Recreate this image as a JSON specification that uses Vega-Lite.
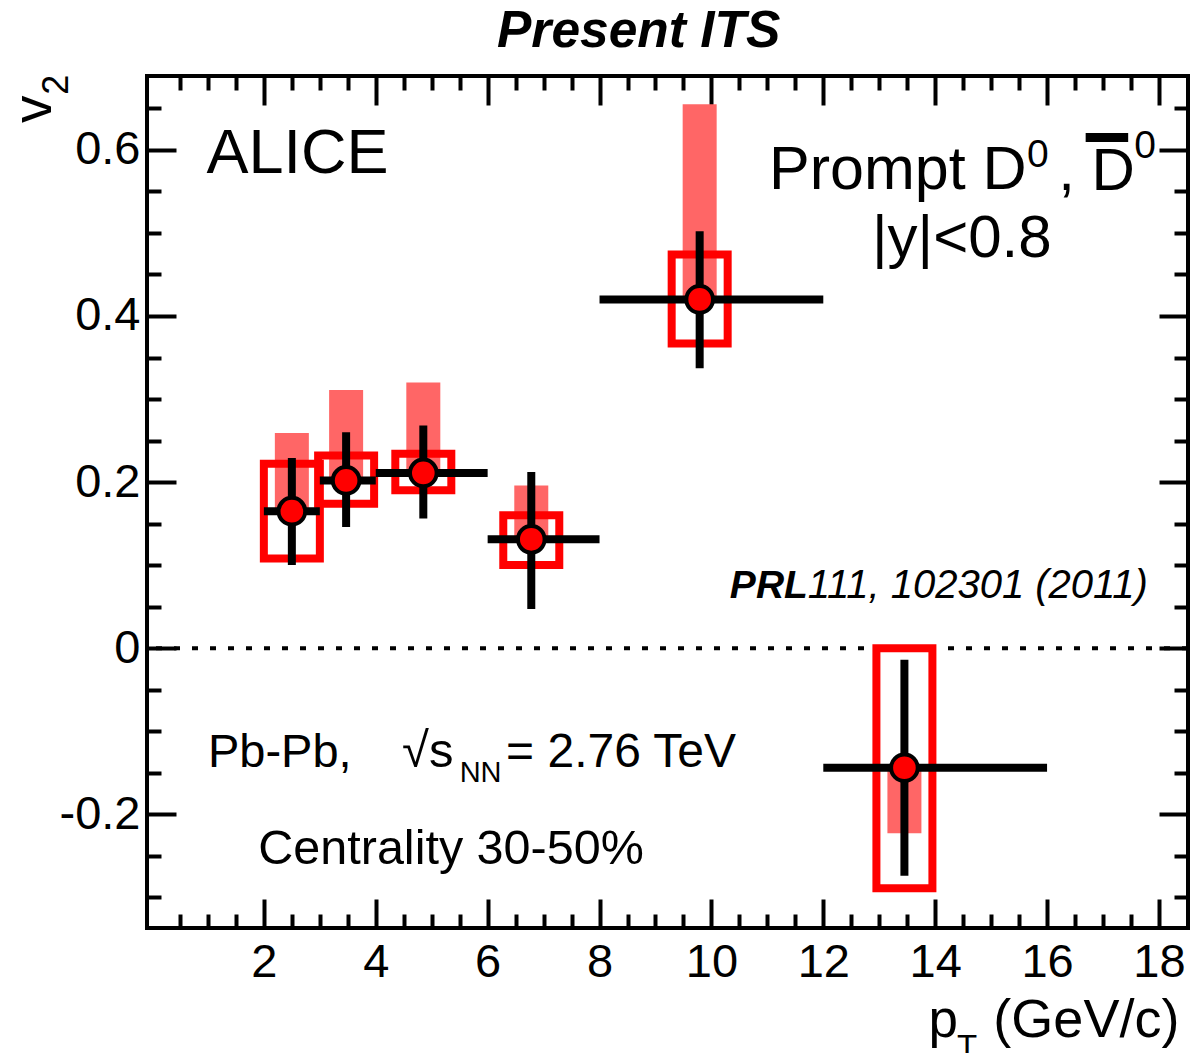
{
  "$schema": "https://vega.github.io/schema/vega-lite/v6.json",
  "width": 1041,
  "height": 852,
  "autosize": "none",
  "padding": {"left": 147, "top": 76, "right": 4, "bottom": 125},
  "background": "white",
  "config": {
    "view": {"stroke": "black", "strokeWidth": 4},
    "font": "Liberation Sans",
    "axis": {"domain": false, "grid": false, "tickColor": "black", "tickWidth": 4, "labelColor": "black", "labelFont": "Liberation Sans", "labelFontSize": 47}
  },
  "datasets": {
    "d": [
      {"pt": 2.50, "ptLo": 2, "ptHi": 3, "v2": 0.165, "statLo": 0.100, "statHi": 0.229, "sysLo": 0.108, "sysHi": 0.222, "fdLim": 0.259},
      {"pt": 3.47, "ptLo": 3, "ptHi": 4, "v2": 0.202, "statLo": 0.146, "statHi": 0.260, "sysLo": 0.174, "sysHi": 0.232, "fdLim": 0.311},
      {"pt": 4.85, "ptLo": 4, "ptHi": 6, "v2": 0.211, "statLo": 0.156, "statHi": 0.268, "sysLo": 0.190, "sysHi": 0.234, "fdLim": 0.320},
      {"pt": 6.78, "ptLo": 6, "ptHi": 8, "v2": 0.131, "statLo": 0.047, "statHi": 0.212, "sysLo": 0.100, "sysHi": 0.160, "fdLim": 0.196},
      {"pt": 9.79, "ptLo": 8, "ptHi": 12, "v2": 0.420, "statLo": 0.337, "statHi": 0.502, "sysLo": 0.367, "sysHi": 0.474, "fdLim": 0.655},
      {"pt": 13.45, "ptLo": 12, "ptHi": 16, "v2": -0.144, "statLo": -0.274, "statHi": -0.014, "sysLo": -0.289, "sysHi": 0.0, "fdLim": -0.223}
    ]
  },
  "resolve": {"axis": {"x": "independent", "y": "independent"}},
  "layer": [
    {
      "data": {"name": "d"},
      "mark": {"type": "bar", "size": 34, "color": "#ff6666"},
      "encoding": {
        "x": {"field": "pt", "type": "quantitative", "scale": {"domain": [0, 18.43], "nice": false, "zero": false},
          "axis": {"orient": "bottom", "values": [2, 4, 6, 8, 10, 12, 14, 16, 18], "format": "d", "tickSize": -29, "labelPadding": 40, "labelFlush": false, "labelOverlap": false, "title": null, "domain": false, "grid": false}},
        "y": {"field": "v2", "type": "quantitative", "scale": {"domain": [-0.337, 0.689], "nice": false, "zero": false},
          "axis": {"orient": "left", "values": [-0.2, 0, 0.2, 0.4, 0.6], "labelExpr": "datum.value == 0 ? '0' : (datum.value < 0 ? '-' : '') + format(abs(datum.value), '.1f')", "tickSize": -29, "labelPadding": 36, "labelFlush": false, "labelOverlap": false, "title": null, "domain": false, "grid": false}},
        "y2": {"field": "fdLim"}
      }
    },
    {
      "data": {"values": [{}]},
      "mark": {"type": "rule", "color": "black", "strokeWidth": 4, "strokeDash": [6, 12]},
      "encoding": {"y": {"datum": 0, "type": "quantitative", "axis": null}}
    },
    {
      "data": {"name": "d"},
      "mark": {"type": "bar", "size": 56, "filled": false, "color": "#ff0000", "strokeWidth": 8},
      "encoding": {
        "x": {"field": "pt", "type": "quantitative",
          "axis": {"orient": "bottom", "values": [0.5, 1, 1.5, 2.5, 3, 3.5, 4.5, 5, 5.5, 6.5, 7, 7.5, 8.5, 9, 9.5, 10.5, 11, 11.5, 12.5, 13, 13.5, 14.5, 15, 15.5, 16.5, 17, 17.5], "tickSize": -14, "labels": false, "title": null, "domain": false, "grid": false}},
        "y": {"field": "sysLo", "type": "quantitative",
          "axis": {"orient": "left", "values": [-0.3, -0.25, -0.15, -0.1, -0.05, 0.05, 0.1, 0.15, 0.25, 0.3, 0.35, 0.45, 0.5, 0.55, 0.65], "tickSize": -14, "labels": false, "title": null, "domain": false, "grid": false}},
        "y2": {"field": "sysHi"}
      }
    },
    {
      "data": {"name": "d"},
      "mark": {"type": "rule", "color": "black", "strokeWidth": 8},
      "encoding": {
        "x": {"field": "ptLo", "type": "quantitative",
          "axis": {"orient": "top", "values": [2, 4, 6, 8, 10, 12, 14, 16, 18], "tickSize": -29, "labels": false, "title": null, "domain": false, "grid": false}},
        "x2": {"field": "ptHi"},
        "y": {"field": "v2", "type": "quantitative",
          "axis": {"orient": "right", "values": [-0.2, 0, 0.2, 0.4, 0.6], "tickSize": -29, "labels": false, "title": null, "domain": false, "grid": false}}
      }
    },
    {
      "data": {"name": "d"},
      "mark": {"type": "rule", "color": "black", "strokeWidth": 8},
      "encoding": {
        "x": {"field": "pt", "type": "quantitative",
          "axis": {"orient": "top", "values": [0.5, 1, 1.5, 2.5, 3, 3.5, 4.5, 5, 5.5, 6.5, 7, 7.5, 8.5, 9, 9.5, 10.5, 11, 11.5, 12.5, 13, 13.5, 14.5, 15, 15.5, 16.5, 17, 17.5], "tickSize": -14, "labels": false, "title": null, "domain": false, "grid": false}},
        "y": {"field": "statLo", "type": "quantitative",
          "axis": {"orient": "right", "values": [-0.3, -0.25, -0.15, -0.1, -0.05, 0.05, 0.1, 0.15, 0.25, 0.3, 0.35, 0.45, 0.5, 0.55, 0.65], "tickSize": -14, "labels": false, "title": null, "domain": false, "grid": false}},
        "y2": {"field": "statHi"}
      }
    },
    {
      "data": {"name": "d"},
      "mark": {"type": "point", "shape": "circle", "filled": true, "color": "#ff0000", "stroke": "black", "strokeWidth": 4, "size": 710, "opacity": 1},
      "encoding": {
        "x": {"field": "pt", "type": "quantitative", "axis": null},
        "y": {"field": "v2", "type": "quantitative", "axis": null}
      }
    },
    {"data": {"values": [{}]}, "mark": {"type": "text", "text": "Present ITS", "align": "center", "baseline": "alphabetic", "font": "Liberation Sans", "fontSize": 51.5, "fontWeight": "bold", "fontStyle": "italic", "color": "black"},
     "encoding": {"x": {"datum": 8.70, "type": "quantitative", "axis": null}, "y": {"datum": 0.7235, "type": "quantitative", "axis": null}}},
    {"data": {"values": [{}]}, "mark": {"type": "text", "text": "ALICE", "align": "left", "baseline": "alphabetic", "font": "Liberation Sans", "fontSize": 63, "color": "black"},
     "encoding": {"x": {"datum": 0.974, "type": "quantitative", "axis": null}, "y": {"datum": 0.5723, "type": "quantitative", "axis": null}}},
    {"data": {"values": [{}]}, "mark": {"type": "text", "text": "Prompt D", "align": "left", "baseline": "alphabetic", "font": "Liberation Sans", "fontSize": 61, "color": "black"},
     "encoding": {"x": {"datum": 11.03, "type": "quantitative", "axis": null}, "y": {"datum": 0.5524, "type": "quantitative", "axis": null}}},
    {"data": {"values": [{}]}, "mark": {"type": "text", "text": "0", "align": "left", "baseline": "alphabetic", "font": "Liberation Sans", "fontSize": 39, "color": "black"},
     "encoding": {"x": {"datum": 15.64, "type": "quantitative", "axis": null}, "y": {"datum": 0.5795, "type": "quantitative", "axis": null}}},
    {"data": {"values": [{}]}, "mark": {"type": "text", "text": ", D", "align": "left", "baseline": "alphabetic", "font": "Liberation Sans", "fontSize": 60, "color": "black"},
     "encoding": {"x": {"datum": 16.2, "type": "quantitative", "axis": null}, "y": {"datum": 0.5518, "type": "quantitative", "axis": null}}},
    {"data": {"values": [{}]}, "mark": {"type": "rule", "color": "black", "strokeWidth": 9},
     "encoding": {"x": {"datum": 16.69, "type": "quantitative", "axis": null}, "x2": {"datum": 17.45}, "y": {"datum": 0.615, "type": "quantitative", "axis": null}}},
    {"data": {"values": [{}]}, "mark": {"type": "text", "text": "0", "align": "left", "baseline": "alphabetic", "font": "Liberation Sans", "fontSize": 39, "color": "black"},
     "encoding": {"x": {"datum": 17.56, "type": "quantitative", "axis": null}, "y": {"datum": 0.59, "type": "quantitative", "axis": null}}},
    {"data": {"values": [{}]}, "mark": {"type": "text", "text": "|y|<0.8", "align": "left", "baseline": "alphabetic", "font": "Liberation Sans", "fontSize": 60, "color": "black"},
     "encoding": {"x": {"datum": 12.87, "type": "quantitative", "axis": null}, "y": {"datum": 0.471, "type": "quantitative", "axis": null}}},
    {"data": {"values": [{}]}, "mark": {"type": "text", "text": "PRL", "align": "left", "baseline": "alphabetic", "font": "Liberation Sans", "fontSize": 39, "fontWeight": "bold", "fontStyle": "italic", "color": "black"},
     "encoding": {"x": {"datum": 10.33, "type": "quantitative", "axis": null}, "y": {"datum": 0.0599, "type": "quantitative", "axis": null}}},
    {"data": {"values": [{}]}, "mark": {"type": "text", "text": "111, 102301 (2011)", "align": "left", "baseline": "alphabetic", "font": "Liberation Sans", "fontSize": 40, "fontStyle": "italic", "color": "black"},
     "encoding": {"x": {"datum": 11.72, "type": "quantitative", "axis": null}, "y": {"datum": 0.0599, "type": "quantitative", "axis": null}}},
    {"data": {"values": [{}]}, "mark": {"type": "text", "text": "Pb-Pb,", "align": "left", "baseline": "alphabetic", "font": "Liberation Sans", "fontSize": 47, "color": "black"},
     "encoding": {"x": {"datum": 1.0, "type": "quantitative", "axis": null}, "y": {"datum": -0.143, "type": "quantitative", "axis": null}}},
    {"data": {"values": [{}]}, "mark": {"type": "text", "text": "√s", "align": "left", "baseline": "alphabetic", "font": "Liberation Sans", "fontSize": 49, "color": "black"},
     "encoding": {"x": {"datum": 4.47, "type": "quantitative", "axis": null}, "y": {"datum": -0.143, "type": "quantitative", "axis": null}}},
    {"data": {"values": [{}]}, "mark": {"type": "text", "text": "NN", "align": "left", "baseline": "alphabetic", "font": "Liberation Sans", "fontSize": 29, "color": "black"},
     "encoding": {"x": {"datum": 5.5, "type": "quantitative", "axis": null}, "y": {"datum": -0.161, "type": "quantitative", "axis": null}}},
    {"data": {"values": [{}]}, "mark": {"type": "text", "text": "= 2.76 TeV", "align": "left", "baseline": "alphabetic", "font": "Liberation Sans", "fontSize": 48, "color": "black"},
     "encoding": {"x": {"datum": 6.33, "type": "quantitative", "axis": null}, "y": {"datum": -0.143, "type": "quantitative", "axis": null}}},
    {"data": {"values": [{}]}, "mark": {"type": "text", "text": "Centrality 30-50%", "align": "left", "baseline": "alphabetic", "font": "Liberation Sans", "fontSize": 48.5, "color": "black"},
     "encoding": {"x": {"datum": 1.9, "type": "quantitative", "axis": null}, "y": {"datum": -0.2594, "type": "quantitative", "axis": null}}},
    {"data": {"values": [{}]}, "mark": {"type": "text", "text": "p", "align": "left", "baseline": "alphabetic", "font": "Liberation Sans", "fontSize": 53, "color": "black"},
     "encoding": {"x": {"datum": 13.88, "type": "quantitative", "axis": null}, "y": {"datum": -0.4687, "type": "quantitative", "axis": null}}},
    {"data": {"values": [{}]}, "mark": {"type": "text", "text": "T", "align": "left", "baseline": "alphabetic", "font": "Liberation Sans", "fontSize": 33, "color": "black"},
     "encoding": {"x": {"datum": 14.39, "type": "quantitative", "axis": null}, "y": {"datum": -0.494, "type": "quantitative", "axis": null}}},
    {"data": {"values": [{}]}, "mark": {"type": "text", "text": "(GeV/c)", "align": "left", "baseline": "alphabetic", "font": "Liberation Sans", "fontSize": 54, "color": "black"},
     "encoding": {"x": {"datum": 15.04, "type": "quantitative", "axis": null}, "y": {"datum": -0.4687, "type": "quantitative", "axis": null}}},
    {"data": {"values": [{}]}, "mark": {"type": "text", "text": "v", "align": "left", "baseline": "alphabetic", "angle": 270, "font": "Liberation Sans", "fontSize": 55, "color": "black"},
     "encoding": {"x": {"datum": -1.8, "type": "quantitative", "axis": null}, "y": {"datum": 0.6325, "type": "quantitative", "axis": null}}},
    {"data": {"values": [{}]}, "mark": {"type": "text", "text": "2", "align": "left", "baseline": "alphabetic", "angle": 270, "font": "Liberation Sans", "fontSize": 36, "color": "black"},
     "encoding": {"x": {"datum": -1.5, "type": "quantitative", "axis": null}, "y": {"datum": 0.6663, "type": "quantitative", "axis": null}}}
  ]
}
